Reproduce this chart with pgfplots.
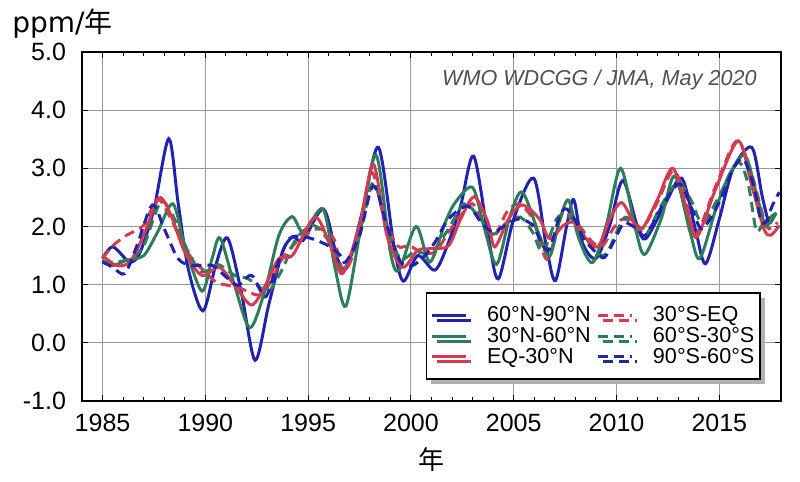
\documentclass[border=0pt]{standalone}
\usepackage{fontspec}
\setmainfont{Liberation Sans}
\newfontfamily\jp{Noto Sans CJK JP}
\newfontfamily\dv{DejaVu Sans}
\usepackage{pgfplots}
\pgfplotsset{compat=1.18}
\usetikzlibrary{shadows}
\definecolor{cblue}{HTML}{2222B0}
\definecolor{cgreen}{HTML}{2E7D5A}
\definecolor{cred}{HTML}{D23C50}
\definecolor{wm}{HTML}{505050}
\begin{document}
\begin{tikzpicture}
\begin{axis}[name=ax, at={(0,0)}, anchor=south west,
  scale only axis, width=349.5pt, height=174.5pt,
  xmin=1984, xmax=2018, ymin=-1, ymax=5,
  xtick={1985,1990,...,2015}, minor x tick num=4,
  ytick={-1,0,...,5},
  /pgf/number format/assume math mode=true,
  xticklabel style={/pgf/number format/1000 sep={}, yshift=-3pt},
  yticklabel style={/pgf/number format/.cd, fixed, fixed zerofill, precision=1, /tikz/.cd, xshift=-4.5pt},
  tick label style={font=\fontsize{12.5}{14}\selectfont},
  grid=major, major grid style={color=gray!80, line width=0.5pt},
  tick align=inside, major tick length=3pt, minor tick length=2pt,
  tick style={black, line width=0.5pt},
  axis line style={line width=1pt},
  legend columns=2,
  legend cell align=left,
  legend style={at={(0.971,0.060)}, anchor=south east, draw=black, line width=0.8pt, fill=white,
    drop shadow={shadow xshift=2.5pt, shadow yshift=-2.5pt, fill=gray!60, opacity=1},
    font=\fontsize{10.8}{11}\selectfont, inner xsep=2pt, inner ysep=6pt,
    nodes={inner sep=0.8pt, text height=7.6pt, text depth=1.2pt},
    /tikz/every odd column/.append style={column sep=9pt},
    /tikz/every even column/.append style={column sep=2pt}},
  legend image code/.code={\draw[#1] (0pt,0pt) -- (17pt,0pt);},
  every axis plot/.append style={line width=1.5pt, smooth},
]
% 60N-90N
\addplot[cblue] coordinates {(1985,1.45)(1985.5,1.65)(1986.33,1.39)(1986.83,1.56)(1987.5,2.3)(1988.22,3.51)(1988.67,2.42)(1989.17,1.27)(1989.88,0.55)(1990.5,1.33)(1991.08,1.80)(1991.75,0.87)(1992.42,-0.30)(1993.08,0.65)(1993.75,1.56)(1994.25,1.82)(1994.75,1.76)(1995.75,2.30)(1996.42,1.45)(1996.9,1.3)(1997.6,2.2)(1998.42,3.36)(1999.17,1.67)(1999.63,1.06)(2000.33,1.50)(2001.17,1.25)(2001.83,1.73)(2002.42,2.36)(2003.05,3.21)(2003.75,1.85)(2004.25,1.10)(2005,2.13)(2005.97,2.83)(2006.58,1.67)(2007.03,1.07)(2007.58,2.02)(2007.92,2.46)(2008.33,1.73)(2009,1.45)(2009.67,2.02)(2010.3,2.79)(2011,2.02)(2011.42,1.79)(2012.33,2.36)(2013.17,2.83)(2013.83,1.96)(2014.33,1.36)(2015,2.13)(2015.67,2.99)(2016.58,3.36)(2017.08,2.53)(2017.42,2.07)(2017.67,2.19)};
\addlegendentry{60°N-90°N}
% 30S-EQ
\addplot[cred, dash pattern=on 5pt off 3pt] coordinates {(1985,1.45)(1985.5,1.67)(1986.17,1.85)(1987,2.02)(1987.67,2.47)(1988.33,2.13)(1989,1.62)(1989.67,1.33)(1990.5,1.05)(1991.08,0.99)(1991.75,0.93)(1992.58,0.82)(1993.08,0.99)(1993.75,1.45)(1994.42,1.73)(1995.08,1.90)(1995.58,1.96)(1996.25,1.79)(1996.75,1.22)(1997.5,1.85)(1998.08,2.93)(1998.67,2.19)(1999.33,1.67)(1999.92,1.67)(2000.5,1.56)(2001.17,1.56)(2001.83,1.90)(2002.42,2.19)(2003.0,2.39)(2003.58,2.02)(2004.08,1.85)(2004.67,2.25)(2005.25,2.39)(2005.92,2.13)(2006.42,1.56)(2006.67,1.45)(2007.08,1.90)(2007.42,2.25)(2007.92,2.13)(2008.83,1.73)(2009.33,1.67)(2009.83,1.96)(2010.33,2.13)(2011,2.02)(2011.33,1.99)(2012,2.42)(2012.75,2.96)(2013.33,2.53)(2013.83,1.85)(2014.83,2.70)(2015.83,3.47)(2016.5,2.99)(2017.17,2.13)(2017.42,1.96)(2017.83,2.07)};
\addlegendentry{30°S-EQ}
% 30N-60N
\addplot[cgreen] coordinates {(1985,1.42)(1985.5,1.33)(1986.17,1.42)(1987,1.50)(1987.67,1.90)(1988.42,2.39)(1989,1.67)(1989.83,0.89)(1990.33,1.45)(1990.72,1.80)(1991.42,0.99)(1992.17,0.26)(1992.92,0.93)(1993.58,1.85)(1994.22,2.17)(1994.78,1.90)(1995.72,2.30)(1996.3,1.3)(1996.83,0.63)(1997.5,1.85)(1998.3,3.23)(1999,1.56)(1999.42,1.25)(2000.25,2.0)(2000.92,1.39)(2001.67,2.07)(2002.17,2.42)(2003,2.67)(2003.58,1.96)(2004.17,1.35)(2004.83,2.19)(2005.42,2.59)(2006.25,1.85)(2006.75,1.49)(2007.25,2.13)(2007.67,2.45)(2008.17,1.79)(2008.83,1.38)(2009.5,2.02)(2010.2,3.0)(2010.92,1.96)(2011.37,1.52)(2012.17,2.13)(2012.83,2.87)(2013.58,1.90)(2014.05,1.45)(2014.83,2.30)(2015.5,2.9)(2016.25,3.22)(2016.83,2.53)(2017.25,2.02)(2017.75,2.22)};
\addlegendentry{30°N-60°N}
% 60S-30S
\addplot[cgreen, dash pattern=on 5pt off 3pt] coordinates {(1985,1.39)(1985.67,1.39)(1986.33,1.45)(1987,1.67)(1987.83,2.42)(1988.5,2.13)(1989.17,1.56)(1989.83,1.22)(1990.5,1.33)(1990.75,1.33)(1991.42,1.16)(1992.08,1.10)(1992.75,0.93)(1993.08,0.87)(1993.75,1.27)(1994.42,1.79)(1995.25,2.02)(1995.92,1.79)(1996.42,1.45)(1996.67,1.22)(1997.5,1.85)(1998.17,2.76)(1998.83,1.96)(1999.5,1.45)(2000.17,1.56)(2001,1.56)(2001.83,1.96)(2002.58,2.39)(2003.25,2.19)(2004,1.87)(2004.67,2.07)(2005.33,2.16)(2005.92,1.90)(2006.42,1.56)(2007.08,2.13)(2007.58,2.19)(2008.08,2.02)(2009,1.56)(2009.5,1.53)(2010,1.90)(2010.42,2.16)(2011,2.02)(2011.42,1.85)(2012.17,2.36)(2013,2.76)(2013.67,2.42)(2014,2.13)(2014.33,2.10)(2015,2.53)(2015.92,3.10)(2016.42,2.70)(2016.8,1.93)(2017.17,2.07)(2017.83,2.25)};
\addlegendentry{60°S-30°S}
% EQ-30N
\addplot[cred] coordinates {(1985,1.50)(1985.67,1.33)(1986.33,1.39)(1987,1.85)(1987.75,2.49)(1988.33,2.19)(1989,1.56)(1989.83,1.16)(1990.67,1.30)(1991.42,0.99)(1992.25,0.65)(1992.92,0.99)(1993.58,1.45)(1994.25,1.51)(1995.33,2.16)(1996.08,1.67)(1996.67,1.19)(1997.5,2.02)(1998.17,3.07)(1998.83,1.85)(1999.58,1.30)(2000.33,1.59)(2001,1.62)(2001.83,1.67)(2002.42,2.13)(2003.08,2.51)(2003.75,2.07)(2004.08,1.65)(2004.75,2.13)(2005.42,2.37)(2006.25,2.13)(2006.75,1.79)(2007.42,2.02)(2007.92,2.07)(2008.33,1.87)(2009.08,1.65)(2009.67,2.13)(2010.25,2.41)(2010.83,2.07)(2011.25,1.96)(2012,2.47)(2012.75,3.0)(2013.5,2.19)(2013.92,1.82)(2014.83,2.65)(2015.92,3.47)(2016.58,2.70)(2017.17,1.96)(2017.5,1.85)(2017.92,2.02)};
\addlegendentry{EQ-30°N}
% 90S-60S
\addplot[cblue, dash pattern=on 5pt off 3pt] coordinates {(1985,1.39)(1985.5,1.30)(1986.08,1.19)(1986.67,1.67)(1987.42,2.37)(1988,1.96)(1988.67,1.45)(1989.33,1.33)(1990.33,1.33)(1990.92,1.16)(1991.58,0.99)(1992.25,1.16)(1992.92,0.79)(1993.42,1.27)(1994.08,1.79)(1994.83,1.82)(1995.42,1.76)(1996.08,1.65)(1996.58,1.50)(1996.83,1.39)(1997.5,1.85)(1998.17,2.70)(1998.83,2.02)(1999.5,1.39)(2000.08,1.33)(2000.67,1.50)(2001.17,1.73)(2001.83,2.13)(2002.75,2.35)(2003.42,2.07)(2004,1.90)(2004.58,2.02)(2005.25,2.13)(2005.92,2.02)(2006.42,1.67)(2006.75,1.62)(2007.25,2.19)(2007.58,2.30)(2008.08,2.05)(2008.4,1.79)(2009.17,1.50)(2009.5,1.50)(2010.17,1.96)(2010.42,2.07)(2011,1.96)(2011.42,1.85)(2012.33,2.42)(2013.08,2.73)(2013.67,2.30)(2014.17,1.96)(2015,2.42)(2015.67,2.99)(2016.17,3.16)(2016.67,2.70)(2017,2.13)(2017.25,2.07)(2017.58,2.36)(2017.92,2.59)};
\addlegendentry{90°S-60°S}
\end{axis}
\node[anchor=base west, inner sep=0pt, font=\fontsize{14}{16}\selectfont] at ([xshift=-35pt, yshift=9.5pt]ax.north west) {{\dv ppm/}{\jp 年}};
\node[inner sep=0pt, font=\jp\fontsize{13}{14}\selectfont] at ([yshift=-29.5pt]ax.south) {年};
\node[anchor=east, inner sep=0pt, text=wm, font=\itshape\fontsize{10.8}{12}\selectfont] at ([xshift=-12pt, yshift=-14pt]ax.north east) {WMO WDCGG / JMA, May 2020};
\path ([xshift=-41pt, yshift=-40.5pt]ax.south west) rectangle ([xshift=9.5pt, yshift=26pt]ax.north east);
\end{tikzpicture}
\end{document}
